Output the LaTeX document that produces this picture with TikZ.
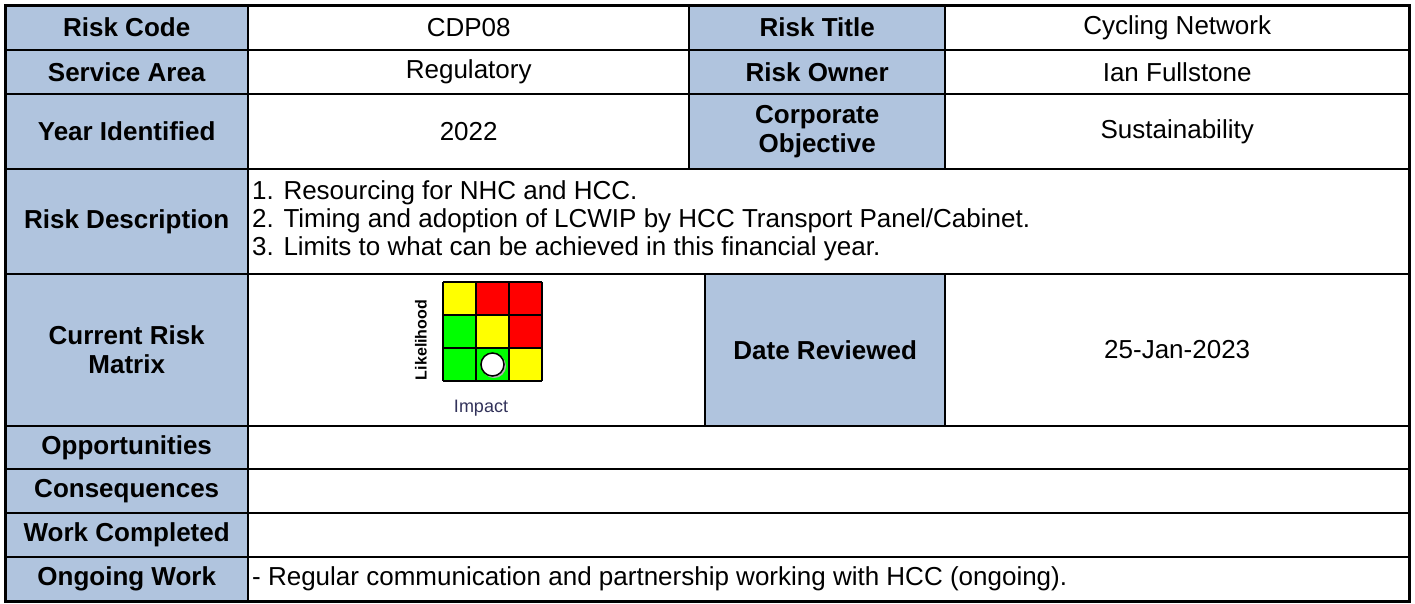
\documentclass[tikz,border=0pt]{standalone}
\usepackage{fontspec}
\setmainfont{Liberation Sans}
\usepackage{tikz}
\usetikzlibrary{calc}

\definecolor{hdrblue}{RGB}{176,196,222}
\definecolor{mxgreen}{RGB}{0,255,0}
\definecolor{mxyellow}{RGB}{255,255,0}
\definecolor{mxred}{RGB}{255,0,0}
\definecolor{impgray}{RGB}{50,50,90}

\tikzset{
  hdr/.style={fill=hdrblue, anchor=north west, inner sep=0pt, align=center,
    font=\fontsize{26}{29}\selectfont\bfseries},
  val/.style={anchor=north west, inner sep=0pt, align=center,
    font=\fontsize{26}{29}\selectfont},
  txt/.style={anchor=west, inner sep=0pt, align=left,
    font=\fontsize{26}{28}\selectfont},
  gridline/.style={line width=2pt},
  outline/.style={line width=3pt},
}

\begin{document}
\begin{tikzpicture}[x=1pt,y=-1pt]
      \useasboundingbox (0,0) rectangle (1415,603);

      %header cells, left column
      \node[hdr, minimum width=243, minimum height=44.5] (rc) at (5,5) {Risk Code};
      \node[hdr, minimum width=243, minimum height=44.5] (sa) at (5,49.5) {Service Area};
      \node[hdr, minimum width=243, minimum height=75] (yi) at (5,94) {Year Identified};
      \node[hdr, minimum width=243, minimum height=104.5] (rd) at (5,169) {Risk Description};
      \node[hdr, minimum width=243, minimum height=152.5] (cm) at (5,273.5) {Current Risk\\Matrix};
      \node[hdr, minimum width=243, minimum height=43] (op) at (5,426) {Opportunities};
      \node[hdr, minimum width=243, minimum height=44] (cq) at (5,469) {Consequences};
      \node[hdr, minimum width=243, minimum height=44] (wc) at (5,513) {Work Completed};
      \node[hdr, minimum width=243, minimum height=44] (ow) at (5,557) {Ongoing Work};

      %header cells, third column
      \node[hdr, minimum width=256, minimum height=44.5] (rt) at (689,5) {Risk Title};
      \node[hdr, minimum width=256, minimum height=44.5] (ro) at (689,49.5) {Risk Owner};
      \node[hdr, minimum width=256, minimum height=75] (co) at (689,94) {Corporate\\Objective};
      \node[hdr, minimum width=240, minimum height=152.5] (dr) at (705,273.5) {Date Reviewed};

      %values
      \node[val, minimum width=441, minimum height=44.5] (code) at (248,5) {CDP08};
      \node[val, minimum width=441, minimum height=44.5] (area) at (248,49.5) {Regulatory};
      \node[val, minimum width=441, minimum height=75] (year) at (248,94) {2022};
      \node[val, minimum width=464, minimum height=44.5] (title) at (945,5) {Cycling Network};
      \node[val, minimum width=464, minimum height=44.5] (owner) at (945,49.5) {Ian Fullstone};
      \node[val, minimum width=464, minimum height=75] (objective) at (945,94) {Sustainability};
      \node[val, minimum width=464, minimum height=152.5] (date) at (945,273.5) {25-Jan-2023};
      \node[txt] (desc) at (252,221) {1. Resourcing for NHC and HCC.\\
        2. Timing and adoption of LCWIP by HCC Transport Panel/Cabinet.\\
        3. Limits to what can be achieved in this financial year.};
      \node[txt] (ongoing) at (252,579) {- Regular communication and partnership working with HCC (ongoing).};

      %risk matrix
      \foreach \i/\j/\clr in {0/0/mxyellow,1/0/mxred,2/0/mxred,
                              0/1/mxgreen,1/1/mxyellow,2/1/mxred,
                              0/2/mxgreen,1/2/mxgreen,2/2/mxyellow}
        \fill[\clr] (443+33*\i,282+33*\j) rectangle ++(33,33);
      \foreach \k in {0,...,3} {
        \draw[line width=1.2pt] (443+33*\k,282) -- (443+33*\k,381);
        \draw[line width=1.2pt] (443,282+33*\k) -- (542,282+33*\k);
      }
      \fill[gray!60] (494,366) circle (12); % circle shadow
      \draw[fill=white, line width=1.5pt] (492.5,364.5) circle (11.5);
      \node[rotate=90, inner sep=0pt, font=\fontsize{16}{16}\selectfont\bfseries] (lh) at (421,340) {Likelihood};
      \node[inner sep=0pt, text=impgray, font=\fontsize{18}{18}\selectfont] (imp) at (481,408) {Impact};

      %grid lines
      \foreach \y in {49.5,94,169,273.5,426,469,513,557}
        \draw[gridline] (5,\y) -- (1409,\y);
      \draw[gridline] (248,5) -- (248,601);
      \draw[gridline] (689,5) -- (689,169);
      \draw[gridline] (945,5) -- (945,169);
      \draw[gridline] (705,273.5) -- (705,426);
      \draw[gridline] (945,273.5) -- (945,426);
      \draw[outline] (5,5) rectangle (1409,601);
\end{tikzpicture}
\end{document}
